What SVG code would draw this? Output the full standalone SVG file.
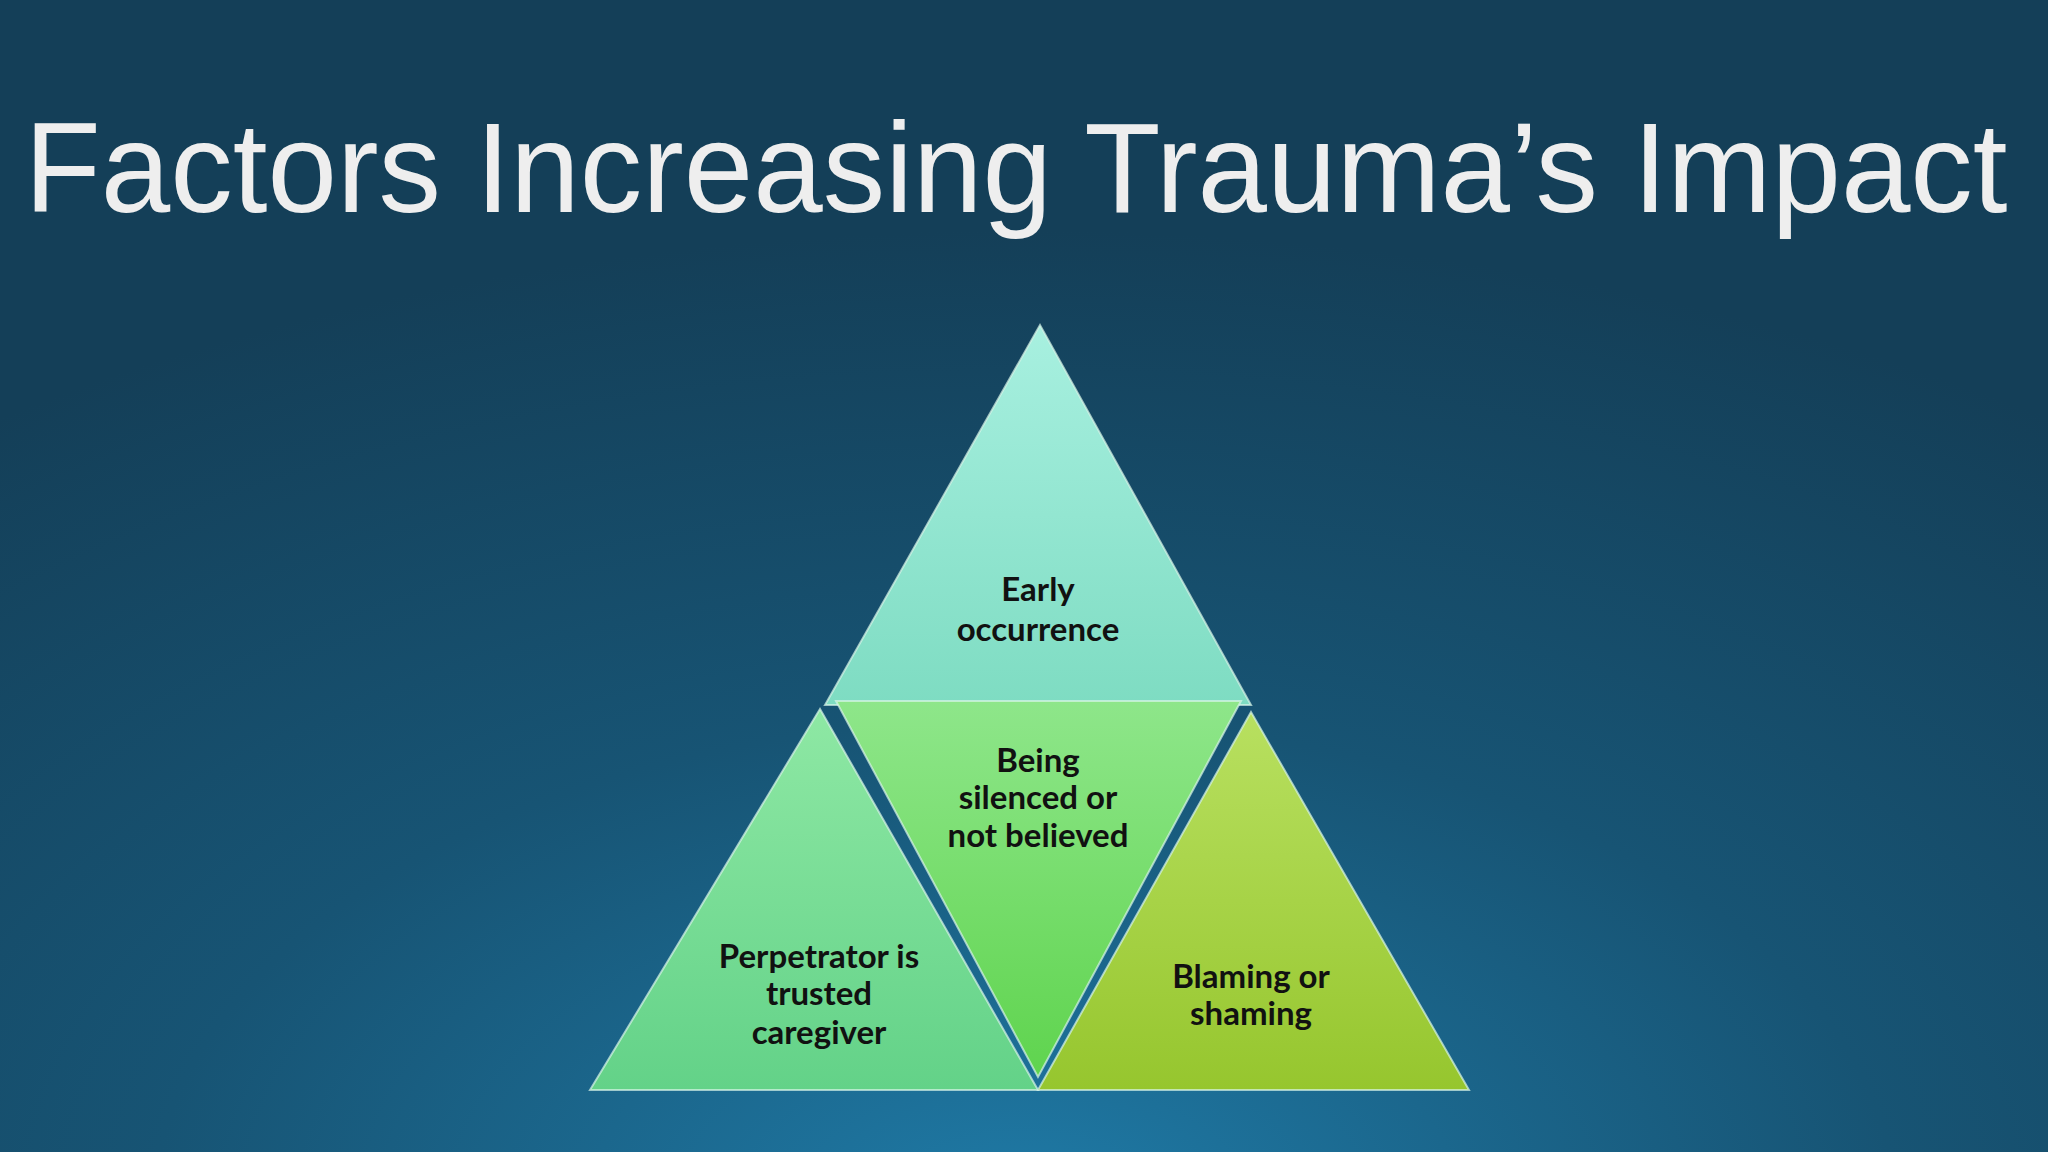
<svg xmlns="http://www.w3.org/2000/svg" width="2048" height="1152" viewBox="0 0 2048 1152">
<defs>
<radialGradient id="bg" cx="0.5" cy="1.05" r="0.85">
<stop offset="0" stop-color="#1f7aa6"/>
<stop offset="0.5" stop-color="#175474"/>
<stop offset="1" stop-color="#143f58"/>
</radialGradient>
<linearGradient id="gTop" x1="0" y1="0" x2="0" y2="1"><stop offset="0" stop-color="#a8f0e0"/><stop offset="1" stop-color="#7edcc2"/></linearGradient>
<linearGradient id="gMid" x1="0" y1="0" x2="0" y2="1"><stop offset="0" stop-color="#8ee68a"/><stop offset="1" stop-color="#5fd44e"/></linearGradient>
<linearGradient id="gLeft" x1="0" y1="0" x2="0" y2="1"><stop offset="0" stop-color="#8ee8a4"/><stop offset="1" stop-color="#63d288"/></linearGradient>
<linearGradient id="gRight" x1="0" y1="0" x2="0" y2="1"><stop offset="0" stop-color="#b8e060"/><stop offset="1" stop-color="#96c62e"/></linearGradient>
</defs>
<style>
.t{font-family:Lato,"Open Sans",sans-serif;font-weight:bold;font-size:33px;fill:#111;text-anchor:middle}
.tri{stroke:#d8f5e8;stroke-width:2;stroke-opacity:0.7}
</style>
<rect width="2048" height="1152" fill="url(#bg)"/>
<text x="1016" y="212" font-family="'Liberation Sans',Arial,sans-serif" font-size="128" fill="#eeeeee" text-anchor="middle" textLength="1983" lengthAdjust="spacingAndGlyphs">Factors Increasing Trauma’s Impact</text>
<g id="top"><polygon class="tri" points="1040,325 825,705 1251,705" fill="url(#gTop)"/>
<text class="t" x="1038" y="601">Early</text><text class="t" x="1038" y="641">occurrence</text></g>
<g id="middle"><polygon class="tri" points="836,701 1241,701 1038,1077" fill="url(#gMid)"/>
<text class="t" x="1038" y="772">Being</text><text class="t" x="1038" y="809">silenced or</text><text class="t" x="1038" y="847">not believed</text></g>
<g id="left"><polygon class="tri" points="820,709 590,1090 1038,1090" fill="url(#gLeft)"/>
<text class="t" x="819" y="968">Perpetrator is</text><text class="t" x="819" y="1005">trusted</text><text class="t" x="819" y="1044">caregiver</text></g>
<g id="right"><polygon class="tri" points="1251,712 1038,1090 1469,1090" fill="url(#gRight)"/>
<text class="t" x="1251" y="988">Blaming or</text><text class="t" x="1251" y="1025">shaming</text></g>
<g id="connectors"></g>
</svg>
